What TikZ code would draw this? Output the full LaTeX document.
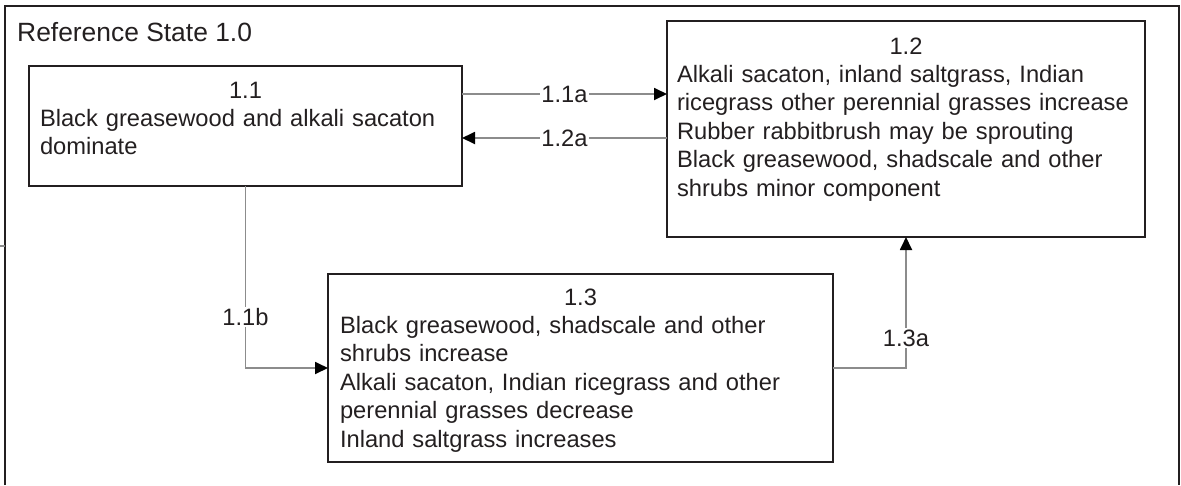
\documentclass[tikz,border=0pt]{standalone}
\usepackage{fontspec}
\setmainfont{Liberation Sans}
\usetikzlibrary{arrows.meta}
\definecolor{ink}{HTML}{231F20}
\definecolor{wire}{HTML}{8C8C8C}
\newcommand{\bodyfont}{\fontsize{23.7}{28.4}\selectfont}
\newcommand{\firstline}[1]{\makebox[\hsize][c]{\rule{0pt}{20pt}#1}}
\begin{document}
\begin{tikzpicture}[x=1pt,y=-1pt,
  statebox/.style={draw=ink,line width=2.5pt,inner sep=0pt,outer sep=0pt,anchor=north west},
  boxtext/.style={anchor=north west,inner sep=0pt,outer sep=0pt,text=ink,font=\bodyfont,align=left},
  conn/.style={draw=wire,line width=1.8pt,-{Triangle[length=13pt,width=12pt,color=black]}},
  lbl/.style={fill=white,inner sep=1.5pt,text=ink,font=\bodyfont}
]
\useasboundingbox (0,0) rectangle (1181,485);
% outer frame (open at the bottom)
\draw[ink,line width=2.5pt] (5,485) -- (5,6) -- (1179,6) -- (1179,485);
\draw[wire,line width=1.5pt] (0,246) -- (5,246);
\node[anchor=base west,inner sep=0pt,text=ink,font=\fontsize{26.4}{30}\selectfont] (title) at (17,41) {Reference State 1.0};
% state boxes
\node[statebox,minimum width=433pt,minimum height=120pt] (b11) at (29,66) {};
\node[statebox,minimum width=478pt,minimum height=216pt] (b12) at (667,21) {};
\node[statebox,minimum width=505pt,minimum height=188pt] (b13) at (328,274) {};
% texts
\node[boxtext,text width=411pt] (t11) at (40,78) {\firstline{1.1}\\Black greasewood and alkali sacaton\\dominate};
\node[boxtext,text width=458pt] (t12) at (677,34) {\firstline{1.2}\\Alkali sacaton, inland saltgrass, Indian\\ricegrass other perennial grasses increase\\Rubber rabbitbrush may be sprouting\\Black greasewood, shadscale and other\\shrubs minor component};
\node[boxtext,text width=481pt] (t13) at (340,285) {\firstline{1.3}\\Black greasewood, shadscale and other\\shrubs increase\\Alkali sacaton, Indian ricegrass and other\\perennial grasses decrease\\Inland saltgrass increases};
% connectors
\coordinate (a1) at ([yshift=32pt]b11.east);
\coordinate (a2) at ([yshift=-12pt]b11.east);
\draw[conn] (a1) -- node[lbl] {1.1a} (a1 -| b12.west);
\draw[conn] (a2 -| b12.west) -- node[lbl] {1.2a} (a2);
\draw[conn] (b11.south) |- node[lbl,pos=0.36] {1.1b} (b13.west);
\draw[conn] (b13.east) -| node[lbl,pos=0.615] {1.3a} (b12.south);
\end{tikzpicture}
\end{document}
